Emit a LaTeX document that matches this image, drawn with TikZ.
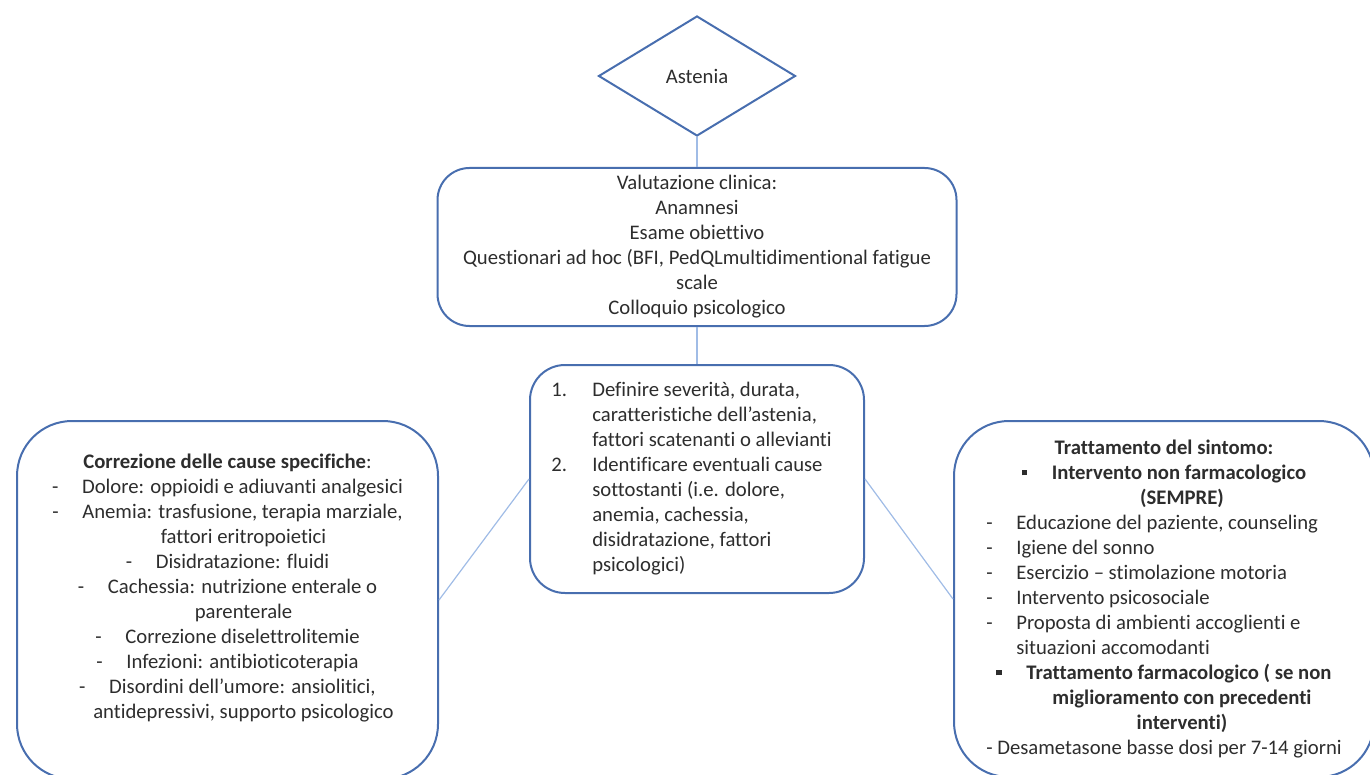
\documentclass[tikz,border=0pt]{standalone}
\usepackage{fontspec}
\setmainfont{Carlito}[Ligatures={CommonOff}]
\usetikzlibrary{shapes.geometric}

\definecolor{boxblue}{RGB}{72,110,175}
\definecolor{linkblue}{RGB}{160,188,230}
\definecolor{txtgray}{RGB}{45,45,45}

\newcommand{\dashitem}{\makebox[15pt][l]{-}}
\newcommand{\sqbullet}{\makebox[15pt][l]{\rule[1.8pt]{2.8pt}{2.8pt}}}

\begin{document}
\begin{tikzpicture}[x=0.5pt, y=-0.5pt,
    every node/.style={font=\fontsize{10.35}{12.5}\selectfont, text=txtgray},
    flowbox/.style={draw=boxblue, line width=1pt, rounded corners=#1, inner sep=0pt},
    flowbox/.default=16pt,
    link/.style={draw=linkblue, line width=0.6pt}]
    \useasboundingbox (0,0) rectangle (1370,775);

    % Draw start diamond
    \node[diamond, draw=boxblue, line width=1pt, inner sep=0pt,
          minimum width=98.5pt, minimum height=60pt] (astenia) at (697,76) {Astenia};

    % Draw clinical assessment box
    \node[flowbox=16pt, minimum width=259.5pt, minimum height=79pt] (valutazione) at (697,247) {%
        \begin{tabular}{@{}c@{}}
        Valutazione clinica:\\
        Anamnesi\\
        Esame obiettivo\\
        Questionari ad hoc (BFI, PedQLmultidimentional fatigue\\
        scale\\
        Colloquio psicologico
        \end{tabular}};

    % Draw middle box with numbered list
    \node[flowbox=17.5pt, minimum width=167pt, minimum height=114pt] (definire) at (697,479) {%
        \begin{tabular}{@{}p{20.5pt}@{}l@{\hspace{5.5pt}}}
        1. & Definire severità, durata,\\
           & caratteristiche dell’astenia,\\
           & fattori scatenanti o allevianti\\
        2. & Identificare eventuali cause\\
           & sottostanti (i.e. dolore,\\
           & anemia, cachessia,\\
           & disidratazione, fattori\\
           & psicologici)
        \end{tabular}};

    % Draw left box (specific causes)
    \node[flowbox=27.5pt, minimum width=210.5pt, minimum height=179pt] (correzione) at (227.5,600) {%
        \begin{tabular}{@{}c@{}}
        \textbf{Correzione delle cause specifiche}:\\
        \dashitem Dolore: oppioidi e adiuvanti analgesici\\
        \dashitem Anemia: trasfusione, terapia marziale,\\
        \hspace{16pt}fattori eritropoietici\\
        \dashitem Disidratazione: fluidi\\
        \dashitem Cachessia: nutrizione enterale o\\
        \hspace{16pt}parenterale\\
        \dashitem Correzione diselettrolitemie\\
        \dashitem Infezioni: antibioticoterapia\\
        \dashitem Disordini dell’umore: ansiolitici,\\
        \hspace{16pt}antidepressivi, supporto psicologico\\[12pt]
        \end{tabular}};

    % Draw right box (symptom treatment)
    \node[flowbox=27.5pt, minimum width=210pt, minimum height=178pt] (trattamento) at (1164,599) {%
        \begin{tabular}{@{}l@{}}
        \multicolumn{1}{@{}c@{}}{\textbf{Trattamento del sintomo:}}\\
        \multicolumn{1}{@{}c@{}}{\sqbullet\textbf{Intervento non farmacologico}}\\
        \multicolumn{1}{@{}c@{}}{\hspace{18pt}\textbf{(SEMPRE)}}\\
        \dashitem Educazione del paziente, counseling\\
        \dashitem Igiene del sonno\\
        \dashitem Esercizio – stimolazione motoria\\
        \dashitem Intervento psicosociale\\
        \dashitem Proposta di ambienti accoglienti e\\
        \hspace{15pt}situazioni accomodanti\\
        \multicolumn{1}{@{}c@{}}{\sqbullet\textbf{Trattamento farmacologico ( se non}}\\
        \multicolumn{1}{@{}c@{}}{\hspace{18pt}\textbf{miglioramento con precedenti}}\\
        \multicolumn{1}{@{}c@{}}{\hspace{18pt}\textbf{interventi)}}\\
        \multicolumn{1}{@{}c@{}}{- Desametasone basse dosi per 7-14 giorni}
        \end{tabular}};

    % Connect the boxes
    \foreach \from/\to in {astenia.south/valutazione.north, valutazione.south/definire.north,
                           definire.west/correzione.east, definire.east/trattamento.west}
        \draw[link] (\from) -- (\to);

\end{tikzpicture}
\end{document}
